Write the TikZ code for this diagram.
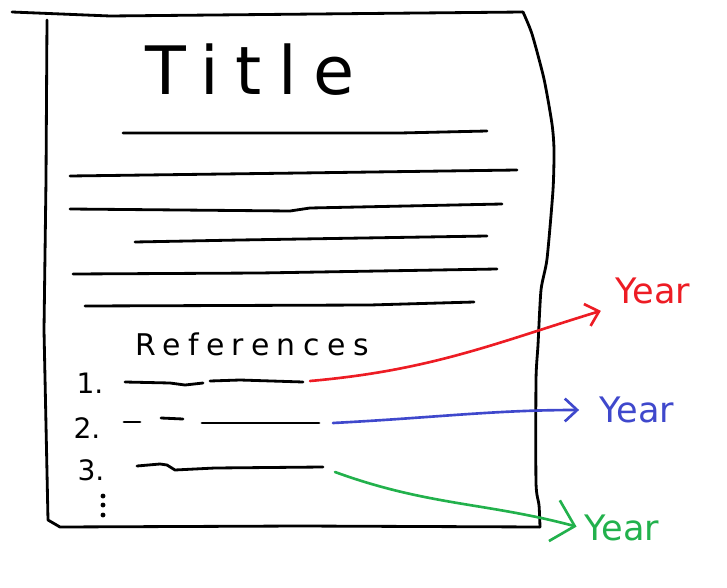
\documentclass[tikz,border=0pt]{standalone}
\usepackage{fontspec}
\setmainfont{DejaVu Sans}
\newfontfamily\spacedfont[LetterSpace=25]{DejaVu Sans}
\usetikzlibrary{arrows.meta}
\definecolor{paintred}{RGB}{237,28,36}
\definecolor{paintblue}{RGB}{63,72,204}
\definecolor{paintgreen}{RGB}{34,177,76}

\begin{document}
\begin{tikzpicture}[x=0.02cm, y=-0.02cm, line width=1.6pt, line cap=round, line join=round,
    yearlink/.style={line width=1.5pt, -{Straight Barb[length=7pt,width=13pt]}},
    yearlabel/.style={font=\fontsize{20}{20}\selectfont, inner sep=1pt},
    numlabel/.style={font=\fontsize{16}{16}\selectfont, inner sep=0pt}]
    \useasboundingbox (0,0) rectangle (727,588);
    \draw (12,12) -- (110,16) -- (523,12);
    \draw plot[smooth, tension=0.4] coordinates {(523,12) (532,34) (544,79) (552,124) (554,150) (553,190) (547,259) (541,290) (538,345) (536,380) (536,483) (539,505) (540,527)};
    \draw (540,527) -- (300,526) -- (60,527) -- (48,520) -- (44,330) -- (46,180) -- (47,20);
    \node[font=\spacedfont\fontsize{38}{38}\selectfont] (title) at (250,70) {Title};
    \draw (123,133) -- (400,133) -- (487,131);
    \draw (70,176) -- (300,173) -- (517,170);
    \draw (70,209) -- (290,211) -- (310,208) -- (502,204);
    \draw (135,242) -- (240,240) -- (487,236);
    \draw (73,274) -- (260,273) -- (497,269);
    \draw (85,306) -- (370,305) -- (474,302);
    \node[font=\spacedfont\fontsize{17}{17}\selectfont] (refs) at (252,344) {References};
    \node[numlabel] (num1) at (90,383) {1.};
    \node[numlabel] (num2) at (87,428) {2.};
    \node[numlabel] (num3) at (91,470) {3.};
    \foreach \y in {496,505,515}
        \fill (103,\y) circle (1.4pt);
    \draw (125,382) -- (170,383) -- (185,385) -- (203,383);
    \draw (210,381) -- (240,380) -- (303,382);
    \draw (124,422) -- (140,422);
    \draw (161,418) -- (183,419);
    \draw (202,423) -- (319,423);
    \draw (137,466) -- (160,464) -- (167,465) -- (175,470) -- (215,468) -- (323,467);
    \coordinate (start1) at (310,381);
    \coordinate (start2) at (333,423);
    \coordinate (start3) at (335,472);
    \node[yearlabel, text=paintred] (year1) at (653,291) {Year};
    \node[yearlabel, text=paintblue] (year2) at (637,410) {Year};
    \node[yearlabel, text=paintgreen] (year3) at (622,528) {Year};
    \draw[yearlink, paintred, shorten >=7pt] (start1) to[out=5,in=197] (year1.south west);
    \draw[yearlink, paintblue, shorten >=10pt] (start2) to[out=3,in=180] (year2.west);
    \draw[yearlink, paintgreen, shorten >=3pt, -{Straight Barb[length=12pt,width=24pt]}] (start3) to[out=-20,in=165] (year3.west);
\end{tikzpicture}
\end{document}
